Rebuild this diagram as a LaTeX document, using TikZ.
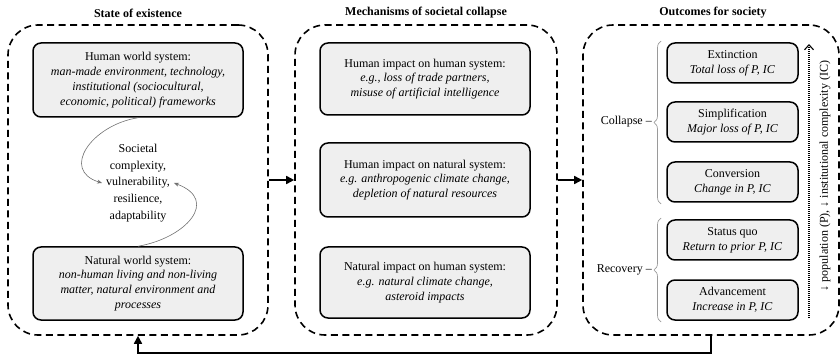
\documentclass[tikz,border=0pt]{standalone}
\usepackage{fontspec}
\setmainfont{Liberation Serif}
\usetikzlibrary{arrows.meta,decorations.pathreplacing}
\definecolor{boxgray}{HTML}{EFEFEF}
\definecolor{linkgray}{HTML}{707070}
\definecolor{bracegray}{HTML}{9A9A9A}
\begin{document}
\begin{tikzpicture}[x=1pt,y=-1pt,
  panel/.style={draw, line width=1.6pt, dash pattern=on 7pt off 4.5pt,
    rounded corners=30pt, minimum height=310pt, inner sep=0pt},
  paneltitle/.style={font=\fontsize{12}{14}\selectfont\bfseries},
  sysbox/.style={draw, line width=1.5pt, rounded corners=8pt, fill=boxgray,
    align=center, inner sep=0pt, font=\fontsize{12}{14.8}\selectfont},
  widebox/.style={sysbox, minimum width=210pt, minimum height=72pt},
  outbox/.style={sysbox, minimum width=131pt, minimum height=40pt},
  flow/.style={line width=1.6pt, -{Triangle[length=8pt,width=8pt]}},
  link/.style={draw=linkgray, line width=0.6pt, -{Stealth[length=5pt,width=4pt]}},
  curly/.style={draw=bracegray, line width=0.7pt, decorate,
    decoration={brace, amplitude=7pt}},
  plain/.style={font=\fontsize{12}{16.8}\selectfont, align=center}
]
\useasboundingbox (0,0) rectangle (840,355);

% three panels
\node[panel, minimum width=260pt] (state) at (138,180) {};
\node[panel, minimum width=262pt] (mech) at (426,180) {};
\node[panel, minimum width=256pt] (outc) at (711,180) {};

\node[paneltitle] (t1) at (138,13) {State of existence};
\node[paneltitle] (t2) at (426,13) {Mechanisms of societal collapse};
\node[paneltitle] (t3) at (713,13) {Outcomes for society};

% state of existence
\node[widebox, minimum height=74pt] (hws) at (138,80) {Human world system:\\
  \textit{man-made environment, technology,}\\
  \textit{institutional (sociocultural,}\\
  \textit{economic, political) frameworks}};
\node[widebox, minimum height=73pt] (nws) at (138,283.5) {Natural world system:\\
  \textit{non-human living and non-living}\\
  \textit{matter, natural environment and}\\
  \textit{processes}};
\node[plain, inner sep=4pt] (soc) at (138,183) {Societal\\complexity,\\vulnerability,\\resilience,\\adaptability};
\draw[link] (hws.south) .. controls (92,125) and (60,170) .. (soc.west);
\draw[link] (nws.north) .. controls (186,238) and (220,200) .. (soc.east);

% mechanisms
\node[widebox] (m1) at (425,79) {Human impact on human system:\\
  \textit{e.g., loss of trade partners,}\\
  \textit{misuse of artificial intelligence}};
\node[widebox, minimum height=74pt] (m2) at (425,180) {Human impact on natural system:\\
  \textit{e.g. anthropogenic climate change,}\\
  \textit{depletion of natural resources}};
\node[widebox, minimum height=71pt] (m3) at (425,282.5) {Natural impact on human system:\\
  \textit{e.g. natural climate change,}\\
  \textit{asteroid impacts}};

% outcomes
\node[outbox] (o1) at (732.5,63) {Extinction\\\textit{Total loss of P, IC}};
\node[outbox] (o2) at (732.5,122) {Simplification\\\textit{Major loss of P, IC}};
\node[outbox] (o3) at (732.5,182) {Conversion\\\textit{Change in P, IC}};
\node[outbox] (o4) at (732.5,240) {Status quo\\\textit{Return to prior P, IC}};
\node[outbox] (o5) at (732.5,300) {Advancement\\\textit{Increase in P, IC}};

\coordinate (cb) at (661,204);
\coordinate (ct) at (661,41);
\coordinate (rb) at (661,322);
\coordinate (rt) at (661,218);
\draw[curly] (cb) -- (ct);
\draw[curly] (rb) -- (rt);
\node[font=\fontsize{12}{14}\selectfont, anchor=east, inner sep=0pt] (collapse) at (652,122) {Collapse –};
\node[font=\fontsize{12}{14}\selectfont, anchor=east, inner sep=0pt] (recovery) at (652,270) {Recovery –};

% population / complexity axis
\coordinate (dbot) at (809,318);
\coordinate (dtop) at (809,44);
\draw[line width=1.4pt, dash pattern=on 1pt off 1pt,
  -{Straight Barb[length=5pt,width=9pt,line width=1.1pt]}] (dbot) -- (dtop);
\node[rotate=90, font=\fontsize{12}{14}\selectfont, inner sep=0pt] (axis) at (825,176)
  {↓ population (P), ↓ institutional complexity (IC)};

% flow between panels
\draw[flow] (state.east) -- (mech.west);
\draw[flow] (mech.east) -- (outc.west);
\draw[flow] (outc.south) -- ++(0,17) -| (state.south);
\end{tikzpicture}
\end{document}
